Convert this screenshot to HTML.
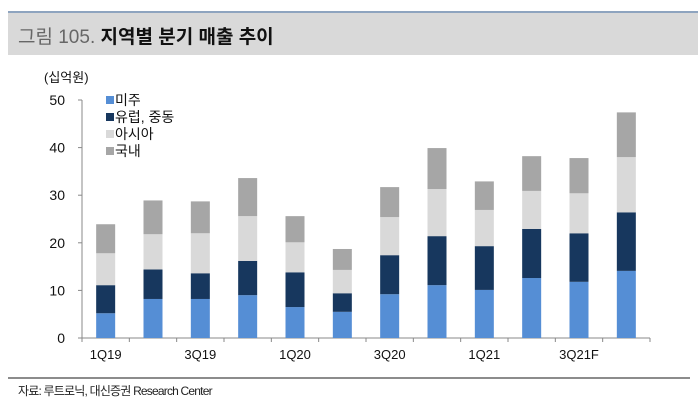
<!DOCTYPE html>
<html><head><meta charset="utf-8"><style>
body{margin:0;width:698px;height:400px;background:#fff;font-family:"Liberation Sans","Noto Sans CJK KR",sans-serif;position:relative;overflow:hidden}
#hdr{position:absolute;left:8px;top:11px;width:690px;height:44px;background:#d9d9d9;border-top:2px solid #8ea4bf;box-sizing:border-box}
#hdr span{position:absolute;left:10px;top:9px;font-size:19px}
#src{position:absolute;left:18px;top:382px;font-size:12px;letter-spacing:-0.8px;color:#222}
#bl{position:absolute;left:8px;top:377px;width:682px;height:2px;background:#8c8c8c}
</style></head><body>
<div id="hdr"><span><span style="position:static;color:#666">그림 105.</span> <b style="color:#111">지역별 분기 매출 추이</b></span></div>
<svg id="chart" width="698" height="400" style="position:absolute;left:0;top:0"></svg>
<div id="bl"></div>
<div id="src">자료: 루트로닉, 대신증권 Research Center</div>
<script>
const categories=["1Q19","2Q19","3Q19","4Q19","1Q20","2Q20","3Q20","4Q20","1Q21","2Q21","3Q21F","4Q21F"];
const americas=[5.2,8.2,8.2,9.0,6.5,5.5,9.2,11.1,10.1,12.6,11.8,14.1];
const europeME=[5.9,6.2,5.4,7.2,7.3,3.9,8.2,10.3,9.2,10.3,10.2,12.3];
const asia=[6.7,7.4,8.4,9.4,6.3,4.9,8.0,9.9,7.6,8.0,8.4,11.6];
const domestic=[6.1,7.1,6.7,8.0,5.5,4.4,6.3,8.6,6.0,7.3,7.4,9.4];
const yTicks=[0,10,20,30,40,50];
const xLabels=["1Q19","","3Q19","","1Q20","","3Q20","","1Q21","","3Q21F",""];
const seriesNames=["미주","유럽, 중동","아시아","국내"];
const NS="http://www.w3.org/2000/svg",svg=document.getElementById('chart');
const X0=82,X1=650,Y0=338,Y1=100,YMAX=50;
const bw=(X1-X0)/categories.length;
const y=v=>Y0-(v/YMAX)*(Y0-Y1);
const xc=i=>X0+bw*(i+0.5);
function mk(t,a){const e=document.createElementNS(NS,t);for(const k in a)e.setAttribute(k,a[k]);svg.appendChild(e);return e;}
const colors=["#558ed5","#17375e","#d9d9d9","#a6a6a6"];
const series=[americas,europeME,asia,domestic];
const ax=mk('line',{x1:X0,y1:Y1,x2:X0,y2:Y0,stroke:'#888'});

const xa=mk('line',{x1:X0,y1:Y0,x2:X1,y2:Y0,stroke:'#888'});

yTicks.forEach(t=>{
 const l=mk('line',{x1:X0-4,x2:X0,y1:y(t),y2:y(t),stroke:'#888'});
 
 const tx=mk('text',{x:65,y:y(t)+5,'text-anchor':'end','font-size':14,fill:'#111'});
 tx.textContent=t;
 
});
for(let i=0;i<=categories.length;i++){
 const l=mk('line',{x1:X0+bw*i,x2:X0+bw*i,y1:Y0,y2:Y0+4,stroke:'#888'});
 
}
categories.forEach((c,i)=>{
 let base=0;
 series.forEach((s,k)=>{
  const r=mk('rect',{x:xc(i)-9.5,width:19,y:y(base+s[i]),height:y(base)-y(base+s[i]),fill:colors[k]});
  
  
  base+=s[i];
 });
 if(xLabels[i]){const t=mk('text',{x:xc(i),y:359,'text-anchor':'middle','font-size':13,fill:'#111'});t.textContent=xLabels[i];
 }
});
const u=mk('text',{x:44,y:82,'font-size':13,fill:'#111'});u.textContent='(십억원)';

seriesNames.forEach((n,k)=>{
 const sq=mk('rect',{x:106,y:96+k*17,width:8,height:8,fill:colors[k]});
 
 const t=mk('text',{x:115,y:105+k*17,'font-size':14,fill:'#111'});t.textContent=n;
 
});
</script>
</body></html>
